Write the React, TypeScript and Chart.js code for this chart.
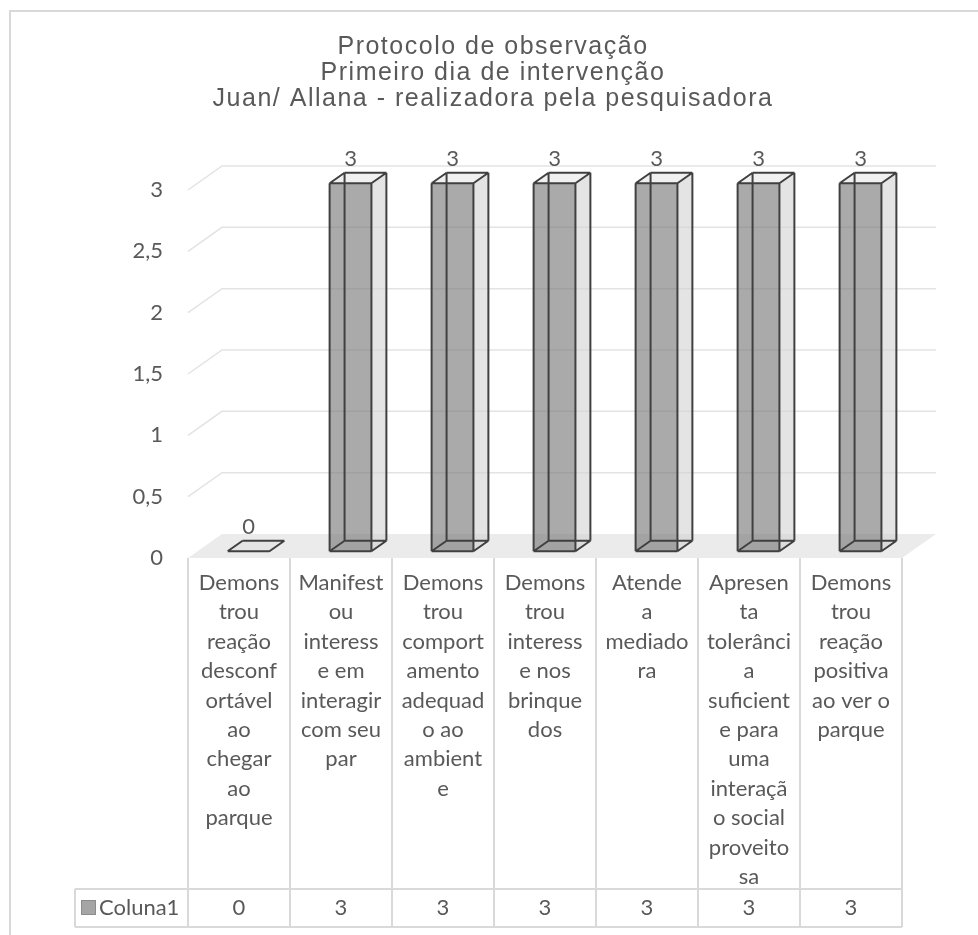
import React, { useEffect, useRef } from "react";
import { Chart, registerables } from "chart.js";

Chart.register(...registerables);

const TITLE_LINES = [
  "Protocolo de observação",
  "Primeiro dia de intervenção",
  "Juan/ Allana - realizadora pela pesquisadora",
];

const CATEGORY_LINES: string[][] = [
  ["Demons", "trou", "reação", "desconf", "ortável", "ao", "chegar", "ao", "parque"],
  ["Manifest", "ou", "interess", "e em", "interagir", "com seu", "par"],
  ["Demons", "trou", "comport", "amento", "adequad", "o ao", "ambient", "e"],
  ["Demons", "trou", "interess", "e nos", "brinque", "dos"],
  ["Atende", "a", "mediado", "ra"],
  ["Apresen", "ta", "tolerânci", "a", "suficient", "e para", "uma", "interaçã", "o social", "proveito", "sa"],
  ["Demons", "trou", "reação", "positiva", "ao ver o", "parque"],
];

const SERIES_NAME = "Coluna1";
const SERIES_VALUES = [0, 3, 3, 3, 3, 3, 3];
const Y_MIN = 0;
const Y_MAX = 3;
const Y_STEP = 0.5;

const TEXT_COLOR = "#595959";
const LINE_COLOR = "#d9d9d9";
const UI_FONT = "Lato, 'Open Sans', sans-serif";
const TITLE_FONT = "'Liberation Sans', Arial, sans-serif";

const PAD_LEFT = 84;
const DEPTH_DX = 34;
const DEPTH_DY = -24;
const FRONT_D = 0.28;
const BACK_D = 0.72;

const fmt = (v: number) => String(v).replace(".", ",");

const threeDPlugin = {
  id: "threeD",
  beforeDraw(chart: any) {
    const { ctx, chartArea, scales } = chart;
    const { left, right, bottom } = chartArea;
    ctx.save();
    ctx.fillStyle = "#ffffff";
    ctx.fillRect(0, 0, chart.width, chart.height);
    // outer frame
    ctx.strokeStyle = LINE_COLOR;
    ctx.lineWidth = 2;
    ctx.strokeRect(10, 11, chart.width + 20, chart.height + 20);
    // title
    ctx.fillStyle = TEXT_COLOR;
    ctx.font = `25px ${TITLE_FONT}`;
    (ctx as any).letterSpacing = "1.5px";
    ctx.textAlign = "center";
    ctx.textBaseline = "middle";
    const cx = (PAD_LEFT + right) / 2;
    TITLE_LINES.forEach((t, k) => ctx.fillText(t, cx, 47 + k * 26));
    (ctx as any).letterSpacing = "0px";
    // floor
    ctx.fillStyle = "#ebebeb";
    ctx.beginPath();
    ctx.moveTo(left, bottom);
    ctx.lineTo(right, bottom);
    ctx.lineTo(right + DEPTH_DX, bottom + DEPTH_DY);
    ctx.lineTo(left + DEPTH_DX, bottom + DEPTH_DY);
    ctx.closePath();
    ctx.fill();
    // walls gridlines
    const ys = scales.y;
    ctx.strokeStyle = "#e3e3e3";
    ctx.lineWidth = 1.5;
    ys.ticks.forEach((t: any) => {
      if (t.value <= Y_MIN) return;
      const y = ys.getPixelForValue(t.value);
      ctx.beginPath();
      ctx.moveTo(left, y);
      ctx.lineTo(left + DEPTH_DX, y + DEPTH_DY);
      ctx.lineTo(right + DEPTH_DX, y + DEPTH_DY);
      ctx.stroke();
    });
    ctx.restore();
  },
  afterDatasetsDraw(chart: any) {
    const { ctx } = chart;
    const meta = chart.getDatasetMeta(0);
    const fdx = DEPTH_DX * FRONT_D, fdy = DEPTH_DY * FRONT_D;
    const bdx = DEPTH_DX * BACK_D, bdy = DEPTH_DY * BACK_D;
    ctx.save();
    meta.data.forEach((el: any, i: number) => {
      const w = el.width;
      const x1 = el.x - w / 2, x2 = el.x + w / 2;
      const yt = el.y, yb = el.base;
      const F = (x: number, y: number) => [x + fdx, y + fdy];
      const B = (x: number, y: number) => [x + bdx, y + bdy];
      const fTL = F(x1, yt), fTR = F(x2, yt), fBL = F(x1, yb), fBR = F(x2, yb);
      const bTL = B(x1, yt), bTR = B(x2, yt), bBL = B(x1, yb), bBR = B(x2, yb);
      const poly = (pts: number[][], fill: string) => {
        ctx.beginPath();
        ctx.moveTo(pts[0][0], pts[0][1]);
        for (let k = 1; k < pts.length; k++) ctx.lineTo(pts[k][0], pts[k][1]);
        ctx.closePath();
        ctx.fillStyle = fill;
        ctx.fill();
      };
      // right side
      poly([fTR, bTR, bBR, fBR], "rgba(210,210,210,0.6)");
      // top
      poly([fTL, fTR, bTR, bTL], yt === yb ? "#e4e4e4" : "rgba(225,225,225,0.5)");
      // front
      if (yb - yt > 0.5) poly([fTL, fTR, fBR, fBL], "rgba(125,125,125,0.65)");
      // edges (all, wireframe)
      ctx.strokeStyle = "#404040";
      ctx.lineWidth = 2;
      ctx.lineJoin = "round";
      const edges = [
        [fTL, fTR], [fTR, fBR], [fBR, fBL], [fBL, fTL],
        [bTL, bTR], [bTR, bBR], [bBR, bBL], [bBL, bTL],
        [fTL, bTL], [fTR, bTR], [fBR, bBR], [fBL, bBL],
      ];
      ctx.beginPath();
      edges.forEach(([a, b]) => {
        ctx.moveTo(a[0], a[1]);
        ctx.lineTo(b[0], b[1]);
      });
      ctx.stroke();
      // value label
      ctx.fillStyle = TEXT_COLOR;
      ctx.font = `22px ${UI_FONT}`;
      ctx.textAlign = "center";
      ctx.textBaseline = "middle";
      ctx.fillText(fmt(SERIES_VALUES[i]), el.x + fdx, yt + bdy - 14);
    });
    ctx.restore();
  },
  afterDraw(chart: any) {
    const { ctx, chartArea, scales } = chart;
    const xs = scales.x;
    const n = CATEGORY_LINES.length;
    const colW = (chartArea.right - chartArea.left) / n;
    const tableTop = chartArea.bottom;
    const rowTop = 889;
    const tableBottom = 927;
    const legendLeft = 75;
    ctx.save();
    ctx.strokeStyle = LINE_COLOR;
    ctx.lineWidth = 2;
    ctx.beginPath();
    for (let i = 0; i <= n; i++) {
      const x = chartArea.left + i * colW;
      ctx.moveTo(x, tableTop);
      ctx.lineTo(x, tableBottom);
    }
    ctx.moveTo(legendLeft, rowTop);
    ctx.lineTo(chartArea.right, rowTop);
    ctx.moveTo(legendLeft, tableBottom);
    ctx.lineTo(chartArea.right, tableBottom);
    ctx.moveTo(legendLeft, rowTop);
    ctx.lineTo(legendLeft, tableBottom);
    ctx.stroke();

    ctx.fillStyle = TEXT_COLOR;
    ctx.font = `22px ${UI_FONT}`;
    ctx.textAlign = "center";
    ctx.textBaseline = "middle";
    CATEGORY_LINES.forEach((lines, i) => {
      const cx = xs.getPixelForValue(i);
      lines.forEach((ln, k) => ctx.fillText(ln, cx, 583 + k * 29.4));
      ctx.fillText(fmt(SERIES_VALUES[i]), cx, (rowTop + tableBottom) / 2);
    });
    // legend key
    ctx.fillStyle = "#a5a5a5";
    ctx.fillRect(81, 900, 15, 15);
    ctx.strokeStyle = "#8c8c8c";
    ctx.lineWidth = 1;
    ctx.strokeRect(81.5, 900.5, 14, 14);
    ctx.fillStyle = TEXT_COLOR;
    ctx.textAlign = "left";
    ctx.fillText(SERIES_NAME, 99, (rowTop + tableBottom) / 2);
    ctx.restore();
  },
};

export default function App() {
  const ref = useRef<HTMLCanvasElement | null>(null);
  useEffect(() => {
    if (!ref.current) return;
    const chart = new Chart(ref.current, {
      type: "bar",
      data: {
        labels: CATEGORY_LINES.map((l) => l.join(" ")),
        datasets: [
          {
            label: SERIES_NAME,
            data: SERIES_VALUES,
            backgroundColor: "rgba(0,0,0,0)",
            borderWidth: 0,
            categoryPercentage: 1,
            barPercentage: 0.41,
          },
        ],
      },
      options: {
        responsive: false,
        animation: false,
        layout: { padding: { left: PAD_LEFT, right: 76, top: 190, bottom: 377 } },
        plugins: {
          legend: { display: false },
          tooltip: { enabled: false },
          title: { display: false },
        },
        scales: {
          x: { display: false },
          y: {
            min: Y_MIN,
            max: Y_MAX,
            grid: { display: false, drawTicks: false },
            border: { display: false },
            ticks: {
              stepSize: Y_STEP,
              padding: 25,
              color: TEXT_COLOR,
              font: { family: UI_FONT, size: 22 },
              callback: (v: any) => fmt(Number(v)),
            },
            afterFit: (s: any) => {
              s.width = 104;
            },
          },
        },
      },
      plugins: [threeDPlugin],
    });
    return () => chart.destroy();
  }, []);
  return (
    <div style={{ position: "absolute", left: 0, top: 0, width: 978, height: 935 }}>
      <canvas ref={ref} width={978} height={935} style={{ width: 978, height: 935 }} />
    </div>
  );
}
